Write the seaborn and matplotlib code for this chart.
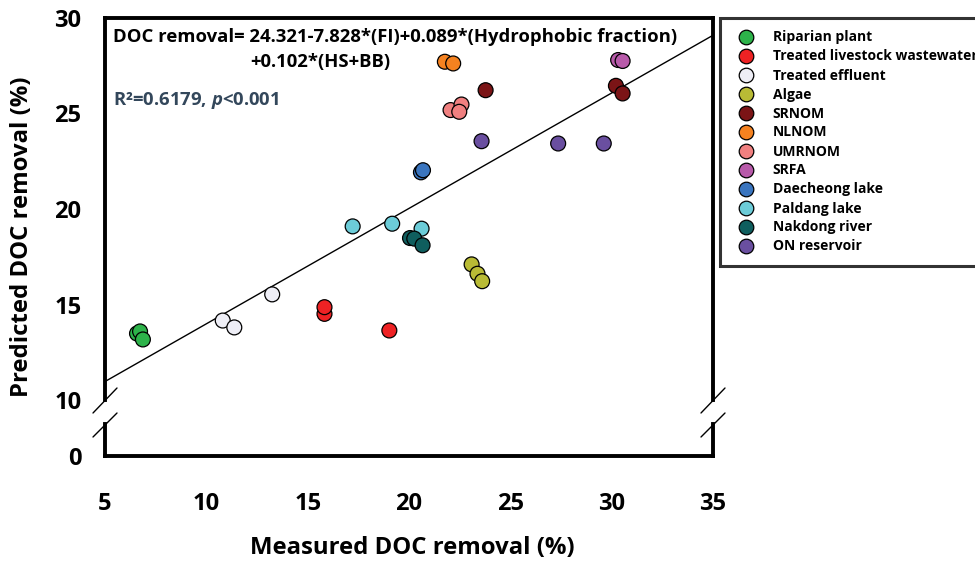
import numpy as np
import pandas as pd
import matplotlib
matplotlib.use("Agg")
import matplotlib.pyplot as plt
from matplotlib.lines import Line2D
import seaborn as sns

# ── Data ──────────────────────────────────────────────────────────────────────
GROUPS = ["Riparian plant", "Treated livestock wastewater", "Treated effluent",
          "Algae", "SRNOM", "NLNOM", "UMRNOM", "SRFA", "Daecheong lake",
          "Paldang lake", "Nakdong river", "ON reservoir"]
COLORS = ["#2DB34A", "#EE2224", "#EEEEF6", "#B9BB35", "#7B1416", "#F58220",
          "#F08080", "#B85AAA", "#3A75BF", "#6CCCD8", "#0F5E5E", "#6A4FA0"]

point_group = (["Riparian plant"] * 3 + ["Treated livestock wastewater"] * 3 +
               ["Treated effluent"] * 3 + ["Algae"] * 3 + ["SRNOM"] * 3 +
               ["NLNOM"] * 2 + ["UMRNOM"] * 3 + ["SRFA"] * 2 +
               ["Daecheong lake"] * 2 + ["Paldang lake"] * 3 +
               ["Nakdong river"] * 3 + ["ON reservoir"] * 3)
measured = [6.58, 6.73, 6.87,
            15.83, 15.83, 19.03,
            10.81, 11.38, 13.25,
            23.09, 23.38, 23.61,
            23.78, 30.21, 30.54,
            21.77, 22.18,
            22.05, 22.59, 22.48,
            30.32, 30.54,
            20.59, 20.69,
            17.22, 19.17, 20.62,
            20.05, 20.26, 20.67,
            23.58, 27.36, 29.61]
predicted = [13.48, 13.59, 13.17,
             14.51, 14.86, 13.64,
             14.16, 13.80, 15.53,
             17.10, 16.61, 16.22,
             26.22, 26.45, 26.05,
             27.71, 27.62,
             25.18, 25.47, 25.09,
             27.80, 27.75,
             21.92, 22.03,
             19.09, 19.23, 18.97,
             18.48, 18.45, 18.10,
             23.55, 23.43, 23.43]

df = pd.DataFrame({"group": point_group, "measured": measured, "predicted": predicted})
palette = dict(zip(GROUPS, COLORS))

# ── Style ─────────────────────────────────────────────────────────────────────
sns.set_style("white")
plt.rcParams["font.family"] = ["Open Sans", "DejaVu Sans"]
plt.rcParams["font.weight"] = "bold"
plt.rcParams["text.color"] = "black"
plt.rcParams["axes.labelcolor"] = "black"
plt.rcParams["xtick.color"] = "black"
plt.rcParams["ytick.color"] = "black"
plt.rcParams["mathtext.fontset"] = "custom"
plt.rcParams["mathtext.rm"] = "Open Sans:bold"
plt.rcParams["mathtext.it"] = "Open Sans:italic:bold"

W, H = 975, 563
fig = plt.figure(figsize=(W / 100, H / 100), dpi=100)

def fx(px):
    return px / W

def fy(py):
    return 1 - py / H

L, R = 105, 713
ax = fig.add_axes([fx(L), fy(400), fx(R - L), fy(18) - fy(400)])
axb = fig.add_axes([fx(L), fy(456), fx(R - L), fy(424) - fy(456)], sharex=ax)

ax.set_xlim(5, 35)
ax.set_ylim(10, 30)

# regression line (predicted vs measured) + points
sns.regplot(data=df, x="measured", y="predicted", ax=ax, scatter=False, ci=None,
            truncate=False, line_kws=dict(color="black", lw=1))
sns.scatterplot(data=df, x="measured", y="predicted", hue="group", hue_order=GROUPS,
                palette=palette, s=115, edgecolor="black", linewidth=0.9,
                legend=False, ax=ax, zorder=3)

ax.set_xlim(5, 35)
ax.set_ylim(10, 30)
axb.set_ylim(0, 32 / 19.07)
ax.set_yticks([10, 15, 20, 25, 30])
axb.set_yticks([0])
axb.set_xticks([5, 10, 15, 20, 25, 30, 35])

for a in (ax, axb):
    for s in a.spines.values():
        s.set_linewidth(2.8)
        s.set_color("black")
    a.tick_params(axis="both", direction="out", length=9, width=2.8,
                  labelsize=17, colors="black", pad=8)
    a.set_xlabel("")
    a.set_ylabel("")
ax.spines["bottom"].set_visible(False)
axb.spines["top"].set_visible(False)
ax.tick_params(axis="x", bottom=False, labelbottom=False)
axb.tick_params(axis="x", pad=17)
ax.yaxis.get_major_ticks()[0].tick1line.set_visible(False)
for lab in ax.get_yticklabels() + axb.get_yticklabels() + axb.get_xticklabels():
    lab.set_fontweight("bold")

# break marks
for x0 in (L, R):
    for (ya, yb) in ((413, 388), (437, 413)):
        fig.add_artist(Line2D([fx(x0 - 12), fx(x0 + 12)], [fy(ya), fy(yb)],
                              transform=fig.transFigure, color="black", lw=1))

fig.text(fx(412), fy(548), "Measured DOC removal (%)", ha="center", va="center",
         fontsize=17.2, fontweight="bold")
fig.text(fx(22), fy(237), "Predicted DOC removal (%)", ha="center", va="center",
         rotation=90, fontsize=17.2, fontweight="bold")

# equation text
ax.text(0.013, 0.950, "DOC removal= 24.321-7.828*(FI)+0.089*(Hydrophobic fraction)",
        transform=ax.transAxes, ha="left", va="center", fontsize=13.3, fontweight="bold")
ax.text(0.2385, 0.885, "+0.102*(HS+BB)", transform=ax.transAxes, ha="left",
        va="center", fontsize=13.3, fontweight="bold")
ax.text(0.013, 0.785, "R²=0.6179, $\\mathit{p}$<0.001", transform=ax.transAxes,
        ha="left", va="center", fontsize=13.3, fontweight="bold", color="#33475B")

# legend
handles = [Line2D([0], [0], marker="o", ls="", markersize=10.5, markerfacecolor=c,
                  markeredgecolor="black", markeredgewidth=0.9) for c in COLORS]
leg = fig.legend(handles, GROUPS, loc="upper left", bbox_to_anchor=(fx(720), fy(18)),
                 borderaxespad=0, frameon=True, fancybox=False, edgecolor="black",
                 borderpad=0.9, handlelength=2, handletextpad=0.9,
                 labelspacing=0.36, prop=dict(weight="bold", size=10))
leg.get_frame().set_linewidth(2.2)
leg.get_frame().set_edgecolor("black")

fig.savefig("out.png", dpi=100)
